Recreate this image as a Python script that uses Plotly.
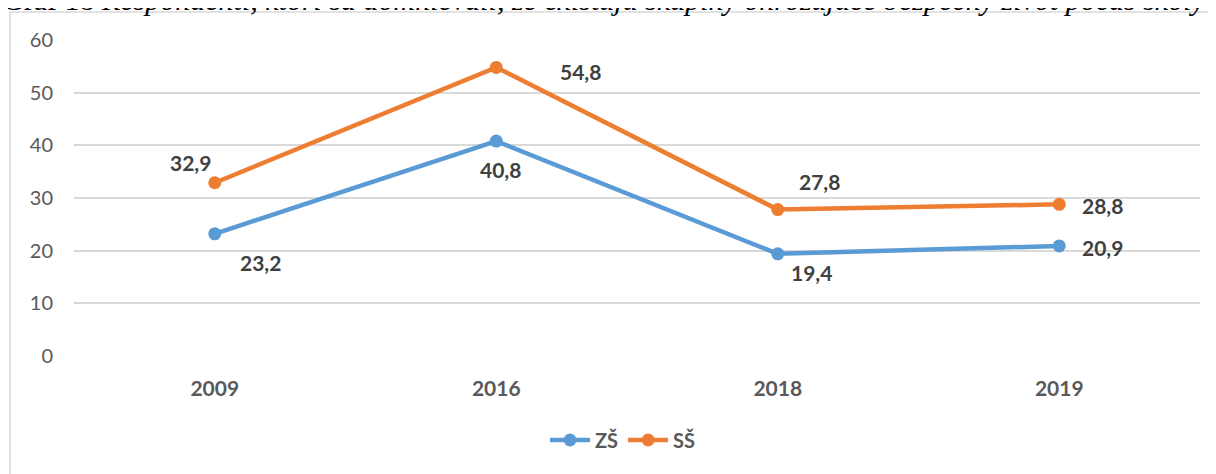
import plotly.graph_objects as go

years = ["2009", "2016", "2018", "2019"]
zs_values = [23.2, 40.8, 19.4, 20.9]
ss_values = [32.9, 54.8, 27.8, 28.8]
series_names = ["ZŠ", "SŠ"]
colors = ["#5B9BD5", "#ED7D31"]
y_ticks = [0, 10, 20, 30, 40, 50, 60]
title_text = "Graf 18 <i>Respondenti, ktorí sa domnievali, že existujú skupiny ohrozujúce bezpečný život počas školy</i>"

# label offsets (px) per series/point
zs_shifts = [(46, -29), (4, -28), (34, -19), (43, -2)]
ss_shifts = [(-24, 20), (84, -4), (42, 28), (43, -1)]

OFF = 8  # page body margin
W, H = 1216, 474
L, T = 74 - OFF, 40 - OFF
pw, ph = 1126, 316
R = W - L - pw
B = H - T - ph

def px_x(p):  # p: page pixel
    return (p - OFF - L) / pw

def px_y(p):
    return (T + ph - (p - OFF)) / ph

fig = go.Figure()
for name, vals, col in zip(series_names, [zs_values, ss_values], colors):
    fig.add_trace(go.Scatter(
        x=years, y=vals, name=name, mode="lines+markers",
        line=dict(color=col, width=4.5),
        marker=dict(color=col, size=13),
    ))

annotations = []
for vals, shifts in [(zs_values, zs_shifts), (ss_values, ss_shifts)]:
    for i, (v, (dx, dy)) in enumerate(zip(vals, shifts)):
        annotations.append(dict(
            x=i, y=v, xref="x", yref="y", text=f"{v:.1f}".replace(".", ","),
            showarrow=False, xshift=dx, yshift=dy,
            font=dict(family="Lato", size=21, color="#404040", weight="bold"),
        ))

annotations.append(dict(
    x=px_x(0), y=px_y(18), xref="paper", yref="paper", xanchor="left", yanchor="bottom",
    text=title_text, showarrow=False,
    font=dict(family="Liberation Serif", size=30, color="#000000"),
))

fig.update_layout(
    width=W, height=H,
    margin=dict(l=L, r=R, t=T, b=B),
    paper_bgcolor="white", plot_bgcolor="white",
    showlegend=True,
    legend=dict(orientation="h", x=px_x(623), xanchor="center", y=px_y(440), yanchor="middle",
                font=dict(family="Lato", size=20, color="#595959", weight="bold"),
                itemwidth=40, traceorder="normal"),
    annotations=annotations,
    shapes=[dict(type="rect", xref="paper", yref="paper",
                 x0=px_x(10), x1=px_x(1213), y0=px_y(500), y1=px_y(12),
                 line=dict(color="#D9D9D9", width=1.5), fillcolor="rgba(0,0,0,0)", layer="below")],
)
fig.update_xaxes(type="category", range=[-0.5, 3.5], showgrid=False, showline=False, zeroline=False,
                 ticks="", ticklabelstandoff=18,
                 tickfont=dict(family="Lato", size=21, color="#595959", weight="bold"))
fig.update_yaxes(range=[0, 60], tickvals=y_ticks, showgrid=True, gridcolor="#D9D9D9", gridwidth=1.5,
                 zeroline=False, showline=False, ticks="", ticklabelstandoff=20,
                 tickfont=dict(family="Lato", size=20, color="#595959"))

fig.write_html("out.html")
